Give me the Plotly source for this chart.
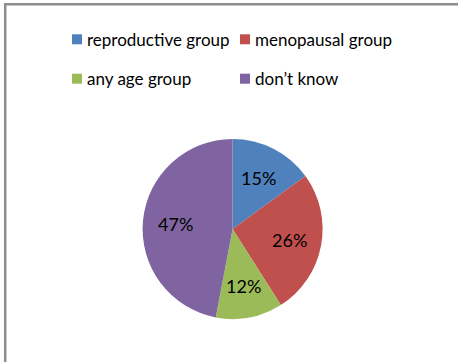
import math
import plotly.graph_objects as go

# Survey answers: which age group is affected
labels = ["reproductive group", "menopausal group", "any age group", "don\u2019t know"]
values = [15, 26, 12, 47]
colors = ["#4F81BD", "#C0504D", "#9BBB59", "#8064A2"]

W, H = 458, 362
CX, CY, R = 232.6, 229.0, 90.0  # pie centre and radius in pixels (y from top)


def px_x(x):
    return x / W


def px_y(y):
    return 1 - y / H


fig = go.Figure(
    go.Pie(
        labels=labels,
        values=values,
        marker=dict(colors=colors, line=dict(width=0)),
        sort=False,
        direction="clockwise",
        rotation=0,
        textinfo="none",
        hoverinfo="label+percent",
        showlegend=False,
        domain=dict(x=[px_x(CX - R), px_x(CX + R)], y=[px_y(CY + R), px_y(CY - R)]),
    )
)

annotations = []
shapes = []

# Percentage labels placed at the middle angle of each slice
total = sum(values)
cum = 0
for v in values:
    mid = (cum + v / 2) / total * 2 * math.pi
    cum += v
    lx = CX + 0.64 * R * math.sin(mid)
    ly = CY - 0.64 * R * math.cos(mid)
    annotations.append(
        dict(
            x=px_x(lx), y=px_y(ly), xref="paper", yref="paper",
            text=f"{round(v / total * 100)}%", showarrow=False,
            xanchor="center", yanchor="middle",
            font=dict(family="Lato", size=18, color="#000000"),
        )
    )

# Two-column legend above the pie
col_x = [72, 240]
row_y = [39.3, 78.7]
sq = 10
for i, (lab, col) in enumerate(zip(labels, colors)):
    x0 = col_x[i % 2]
    yc = row_y[i // 2]
    shapes.append(
        dict(
            type="rect", xref="paper", yref="paper",
            x0=px_x(x0), x1=px_x(x0 + sq),
            y0=px_y(yc + sq / 2), y1=px_y(yc - sq / 2),
            fillcolor=col, line=dict(width=0),
        )
    )
    annotations.append(
        dict(
            x=px_x(x0 + 13), y=px_y(yc), xref="paper", yref="paper",
            text=lab, showarrow=False, xanchor="left", yanchor="middle",
            font=dict(family="Lato", size=17, color="#000000"),
        )
    )

# Chart frame
shapes.append(
    dict(
        type="rect", xref="paper", yref="paper",
        x0=px_x(5.2), x1=1.05, y0=-0.05, y1=px_y(4.2),
        line=dict(color="#8c8c8c", width=2.5), fillcolor="rgba(0,0,0,0)",
    )
)

fig.update_layout(
    width=W, height=H,
    margin=dict(l=0, r=0, t=0, b=0),
    paper_bgcolor="white", plot_bgcolor="white",
    annotations=annotations, shapes=shapes,
)

fig.write_html("out.html")
